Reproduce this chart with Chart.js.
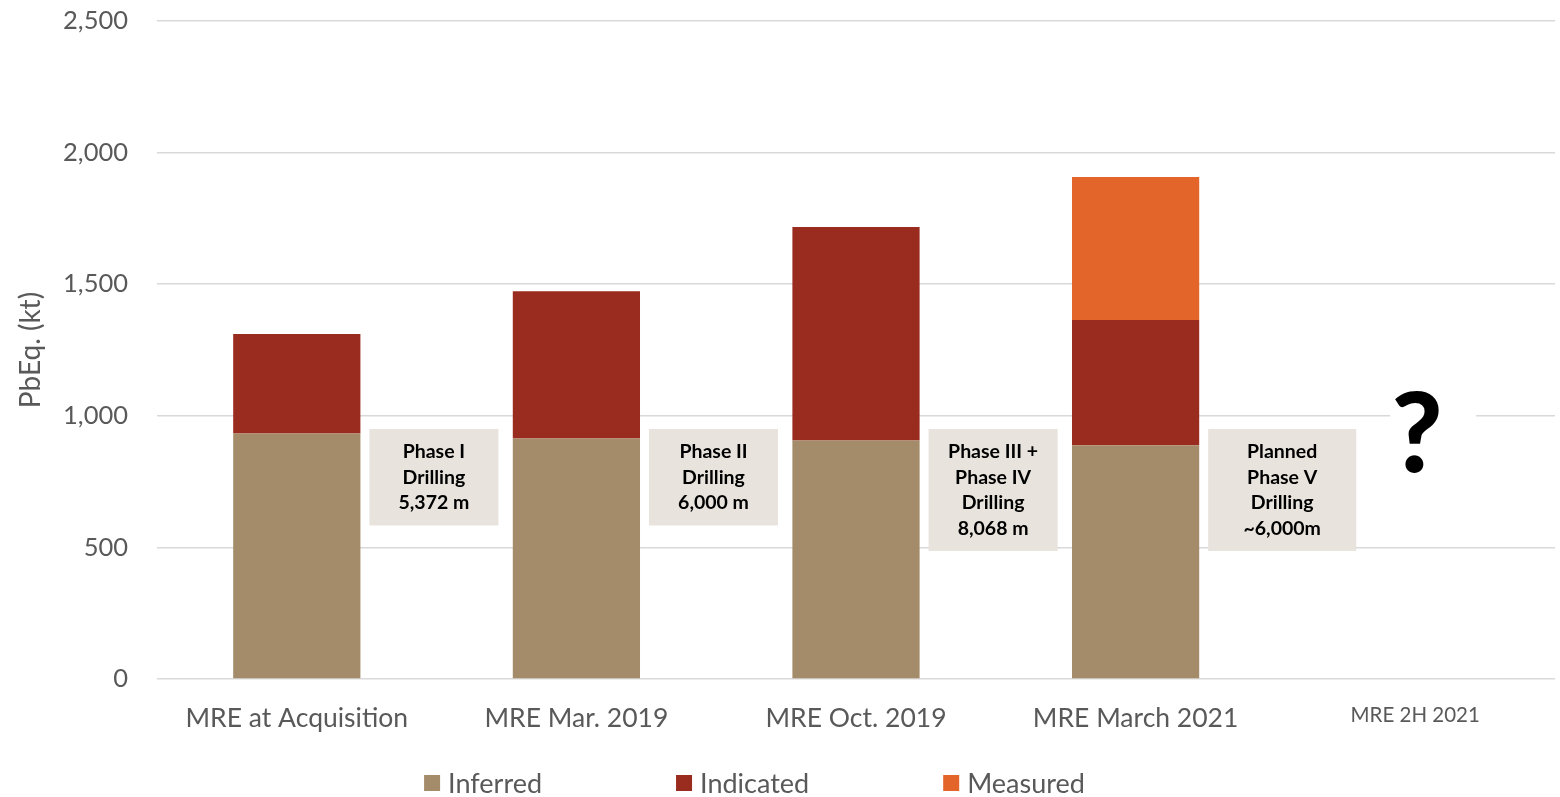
<!DOCTYPE html>
<html>
<head>
<meta charset="utf-8">
<script src="https://cdn.jsdelivr.net/npm/chart.js@4.4.0/dist/chart.umd.min.js"></script>
<style>
    html, body { margin: 0; padding: 0; background: #fff; }
    #wrap { width: 1560px; height: 797px; }
</style>
</head>
<body>
<div id="wrap"><canvas id="mreChart"></canvas></div>
<script>
// Chart data
const categories = ['MRE at Acquisition', 'MRE Mar. 2019', 'MRE Oct. 2019', 'MRE March 2021', 'MRE 2H 2021'];
const inferred = [933, 914, 906, 888, null];
const indicated = [378, 559, 811, 476, null];
const measured = [null, null, null, 543, null];
const yTicks = [0, 500, 1000, 1500, 2000, 2500];
const phaseNotes = [
    ['Phase I', 'Drilling', '5,372 m'],
    ['Phase II', 'Drilling', '6,000 m'],
    ['Phase III +', 'Phase IV', 'Drilling', '8,068 m'],
    ['Planned', 'Phase V', 'Drilling', '~6,000m']
];

const FONT = 'Lato';
const TEXT_GREY = '#595959';
const colors = {
    inferred: '#A48C6A',
    indicated: '#9A2B1F',
    measured: '#E4652A'
};

// Grey drilling boxes + the question mark for the last column
const notesPlugin = {
    id: 'notes',
    afterDatasetsDraw(chart) {
        const ctx = chart.ctx;
        const x = chart.scales.x;
        const y = chart.scales.y;
        const bars = chart.getDatasetMeta(0).data;
        const lineH = 25.5;
        ctx.save();
        phaseNotes.forEach(function(lines, i) {
            const bar = bars[i];
            const left = bar.x + bar.width / 2 + 9;
            const w = i === 3 ? 148 : 129;
            const top = y.getPixelForValue(950);
            const h = lines.length * lineH + 20;
            ctx.fillStyle = '#E8E4DD';
            ctx.fillRect(left, top, w, h);
            ctx.fillStyle = '#000';
            ctx.font = 'bold 19.5px ' + FONT;
            ctx.textAlign = 'center';
            ctx.textBaseline = 'middle';
            lines.forEach(function(t, j) {
                ctx.fillText(t, left + w / 2, top + 23 + j * lineH);
            });
        });
        // question mark, with a white patch that breaks the 1,000 gridline
        const qx = x.getPixelForValue(4) + 2;
        const qy = y.getPixelForValue(920);
        ctx.fillStyle = '#fff';
        ctx.fillRect(qx - 27, qy - 50, 86, 95);
        ctx.fillStyle = '#000';
        ctx.font = '900 110px ' + FONT;
        ctx.textAlign = 'center';
        ctx.textBaseline = 'middle';
        ctx.fillText('?', qx, qy);
        ctx.restore();
    }
};

// Legend drawn by hand so the wide gaps between items can be matched
const legendPlugin = {
    id: 'wideLegend',
    afterDraw(chart) {
        const ctx = chart.ctx;
        const items = chart.data.datasets;
        const gap = 134;
        const box = 16;
        ctx.save();
        ctx.font = '27px ' + FONT;
        let total = 0;
        const widths = items.map(function(d) {
            const w = box + 8 + ctx.measureText(d.label).width;
            total += w;
            return w;
        });
        total += gap * (items.length - 1);
        let cx = chart.width / 2 - 25.5 - total / 2;
        const cy = 783;
        items.forEach(function(d, i) {
            ctx.fillStyle = d.backgroundColor;
            ctx.fillRect(cx, cy - box / 2, box, box);
            ctx.fillStyle = TEXT_GREY;
            ctx.textAlign = 'left';
            ctx.textBaseline = 'middle';
            ctx.fillText(d.label, cx + box + 8, cy + 1);
            cx += widths[i] + gap;
        });
        ctx.restore();
    }
};

document.addEventListener('DOMContentLoaded', function() {
    const ctx = document.getElementById('mreChart').getContext('2d');
    new Chart(ctx, {
        type: 'bar',
        data: {
            labels: categories,
            datasets: [
                { label: 'Inferred', data: inferred, backgroundColor: colors.inferred },
                { label: 'Indicated', data: indicated, backgroundColor: colors.indicated },
                { label: 'Measured', data: measured, backgroundColor: colors.measured }
            ]
        },
        options: {
            responsive: true,
            maintainAspectRatio: false,
            animation: false,
            categoryPercentage: 1,
            barPercentage: 0.455,
            layout: {
                padding: { top: 0, right: 5, left: 0, bottom: 0 }
            },
            scales: {
                x: {
                    stacked: true,
                    grid: { display: false },
                    border: { display: false },
                    ticks: {
                        color: TEXT_GREY,
                        padding: 16,
                        maxRotation: 0,
                        font: function(c) {
                            return c.index === 4 ? { family: FONT, size: 20.5 } : { family: FONT, size: 26.5 };
                        }
                    },
                    afterFit: function(scale) { scale.height = 118; }
                },
                y: {
                    stacked: true,
                    min: 0,
                    max: 2500,
                    afterBuildTicks: function(scale) {
                        scale.ticks = yTicks.map(function(v) { return { value: v }; });
                    },
                    grid: { color: '#D9D9D9', lineWidth: 1.5, drawTicks: false },
                    border: { display: false },
                    ticks: {
                        color: TEXT_GREY,
                        padding: 29,
                        font: { family: FONT, size: 25.5 },
                        callback: function(v) { return v.toLocaleString('en-US'); }
                    },
                    title: {
                        display: true,
                        text: 'PbEq. (kt)',
                        color: TEXT_GREY,
                        font: { family: FONT, size: 28 },
                        padding: { top: 14, bottom: 0 }
                    },
                    afterFit: function(scale) {
                        scale.width = 157;
                        scale.paddingTop = 21;
                        scale.paddingBottom = 0;
                    }
                }
            },
            plugins: {
                legend: { display: false },
                tooltip: { enabled: false }
            }
        },
        plugins: [notesPlugin, legendPlugin]
    });
});
</script>
</body>
</html>
